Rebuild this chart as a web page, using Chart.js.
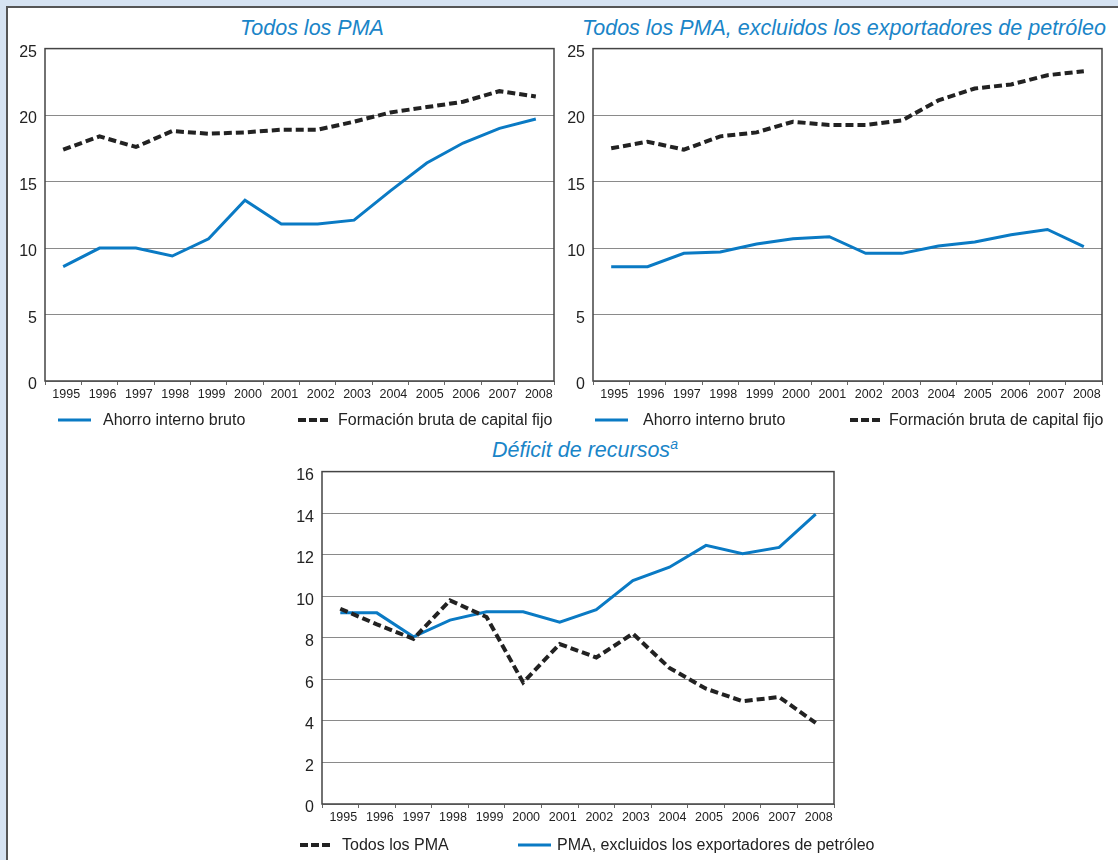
<!DOCTYPE html>
<html>
<head>
<meta charset="utf-8">
<script src="https://cdn.jsdelivr.net/npm/chart.js@4.4.0/dist/chart.umd.min.js"></script>
<style>
  html, body { margin: 0; padding: 0; }
  body { width: 1118px; height: 860px; background: #d6e3f2; position: relative; overflow: hidden;
         font-family: "Liberation Sans", Arial, sans-serif; }
  #panel { position: absolute; left: 6px; top: 6px; width: 1120px; height: 860px; background: #fff;
           border-top: 2px solid #555; border-left: 2px solid #555; box-sizing: border-box; }
  canvas { position: absolute; }
  .title { position: absolute; color: #1a85c8; font-style: italic; font-size: 21.5px; line-height: 24px;
           white-space: nowrap; transform: translateX(-50%); }
  .title sup { font-size: 14px; vertical-align: 0; position: relative; top: -8px; }
  .leg { position: absolute; font-size: 16px; line-height: 18px; color: #222; white-space: nowrap; }
  .sample { position: absolute; }
</style>
</head>
<body>
<div id="panel"></div>

<div class="title" style="left:312px; top:16px;">Todos los PMA</div>
<div class="title" style="left:844px; top:16px;">Todos los PMA, excluidos los exportadores de petróleo</div>
<div class="title" style="left:585px; top:438px;">Déficit de recursos<sup>a</sup></div>

<canvas id="chartTodos" style="left:0px; top:31px;" width="556" height="384"></canvas>
<canvas id="chartSinPetroleo" style="left:548px; top:31px;" width="560" height="384"></canvas>
<canvas id="chartDeficit" style="left:277px; top:454px;" width="565" height="384"></canvas>

<!-- leyendas -->
<svg class="sample" style="left:58px; top:417px;" width="33" height="6"><line x1="0" y1="3" x2="33" y2="3" stroke="#0a7ac4" stroke-width="3"/></svg>
<div class="leg" style="left:103px; top:411px;">Ahorro interno bruto</div>
<svg class="sample" style="left:298px; top:417px;" width="33" height="6"><line x1="0" y1="3" x2="33" y2="3" stroke="#222" stroke-width="4" stroke-dasharray="8 3"/></svg>
<div class="leg" style="left:338px; top:411px;">Formación bruta de capital fijo</div>

<svg class="sample" style="left:595px; top:417px;" width="33" height="6"><line x1="0" y1="3" x2="33" y2="3" stroke="#0a7ac4" stroke-width="3"/></svg>
<div class="leg" style="left:643px; top:411px;">Ahorro interno bruto</div>
<svg class="sample" style="left:850px; top:417px;" width="33" height="6"><line x1="0" y1="3" x2="33" y2="3" stroke="#222" stroke-width="4" stroke-dasharray="8 3"/></svg>
<div class="leg" style="left:889px; top:411px;">Formación bruta de capital fijo</div>

<svg class="sample" style="left:300px; top:842px;" width="33" height="6"><line x1="0" y1="3" x2="33" y2="3" stroke="#222" stroke-width="4" stroke-dasharray="8 3"/></svg>
<div class="leg" style="left:342px; top:836px;">Todos los PMA</div>
<svg class="sample" style="left:518px; top:842px;" width="33" height="6"><line x1="0" y1="3" x2="33" y2="3" stroke="#0a7ac4" stroke-width="3"/></svg>
<div class="leg" style="left:557px; top:836px;">PMA, excluidos los exportadores de petróleo</div>

<script>
// Datos (porcentaje del PIB)
const years = ['1995', '1996', '1997', '1998', '1999', '2000', '2001', '2002', '2003', '2004', '2005', '2006', '2007', '2008'];

const ahorroTodos = [8.6, 10.0, 10.0, 9.4, 10.7, 13.6, 11.8, 11.8, 12.1, 14.3, 16.4, 17.9, 19.0, 19.7];
const formacionTodos = [17.4, 18.4, 17.6, 18.8, 18.6, 18.7, 18.9, 18.9, 19.5, 20.2, 20.6, 21.0, 21.8, 21.4];

const ahorroSinPetroleo = [8.6, 8.6, 9.6, 9.7, 10.3, 10.7, 10.85, 9.6, 9.6, 10.15, 10.45, 11.0, 11.4, 10.1];
const formacionSinPetroleo = [17.5, 18.0, 17.4, 18.4, 18.7, 19.5, 19.25, 19.25, 19.6, 21.1, 22.0, 22.3, 23.0, 23.3];

const deficitTodos = [9.4, 8.65, 7.95, 9.8, 9.0, 5.85, 7.7, 7.05, 8.2, 6.55, 5.55, 4.95, 5.15, 3.9];
const deficitSinPetroleo = [9.2, 9.2, 8.05, 8.85, 9.25, 9.25, 8.75, 9.35, 10.75, 11.4, 12.45, 12.05, 12.35, 13.95];

const BLUE = '#0a7ac4';
const BLACK = '#222222';
const FONT = '"Liberation Sans", Arial, sans-serif';

// marco del área del gráfico
const framePlugin = {
    id: 'frame',
    afterDatasetsDraw(chart) {
        const a = chart.chartArea;
        const ctx = chart.ctx;
        ctx.save();
        ctx.strokeStyle = '#444';
        ctx.lineWidth = 1.5;
        ctx.strokeRect(a.left, a.top, a.right - a.left, a.bottom - a.top);
        ctx.restore();
    }
};

function blueSet(data) {
    return { data: data, borderColor: BLUE, borderWidth: 3, pointRadius: 0, tension: 0, fill: false };
}

function dashedSet(data) {
    return { data: data, borderColor: BLACK, borderWidth: 4, borderDash: [8, 4], pointRadius: 0, tension: 0, fill: false };
}

function makeChart(id, datasets, yMax, yStep, pad) {
    return new Chart(document.getElementById(id).getContext('2d'), {
        type: 'line',
        data: { labels: years, datasets: datasets },
        options: {
            responsive: false,
            animation: false,
            layout: { padding: pad },
            plugins: { legend: { display: false }, title: { display: false }, tooltip: { enabled: false } },
            scales: {
                x: {
                    offset: true,
                    border: { display: false },
                    grid: { offset: true, drawOnChartArea: false, tickLength: 4, color: '#666' },
                    ticks: { font: { family: FONT, size: 12.5 }, color: '#222', padding: 2, labelOffset: 3,
                             maxRotation: 0, autoSkip: false },
                    afterFit(scale) { scale.height = 34; }
                },
                y: {
                    min: 0,
                    max: yMax,
                    border: { display: false },
                    grid: { color: '#8a8a8a', lineWidth: 1, drawTicks: false },
                    ticks: { stepSize: yStep, font: { family: FONT, size: 16 }, color: '#222', padding: 8, labelOffset: 4 },
                    afterFit(scale) { scale.width = 45; }
                }
            }
        },
        plugins: [framePlugin]
    });
}

document.addEventListener('DOMContentLoaded', function() {
    makeChart('chartTodos', [blueSet(ahorroTodos), dashedSet(formacionTodos)], 25, 5,
              { top: 8, right: 2, left: 0, bottom: 0 });
    makeChart('chartSinPetroleo', [blueSet(ahorroSinPetroleo), dashedSet(formacionSinPetroleo)], 25, 5,
              { top: 8, right: 6, left: 0, bottom: 0 });
    makeChart('chartDeficit', [dashedSet(deficitTodos), blueSet(deficitSinPetroleo)], 16, 2,
              { top: 8, right: 8, left: 0, bottom: 0 });
});
</script>
</body>
</html>
